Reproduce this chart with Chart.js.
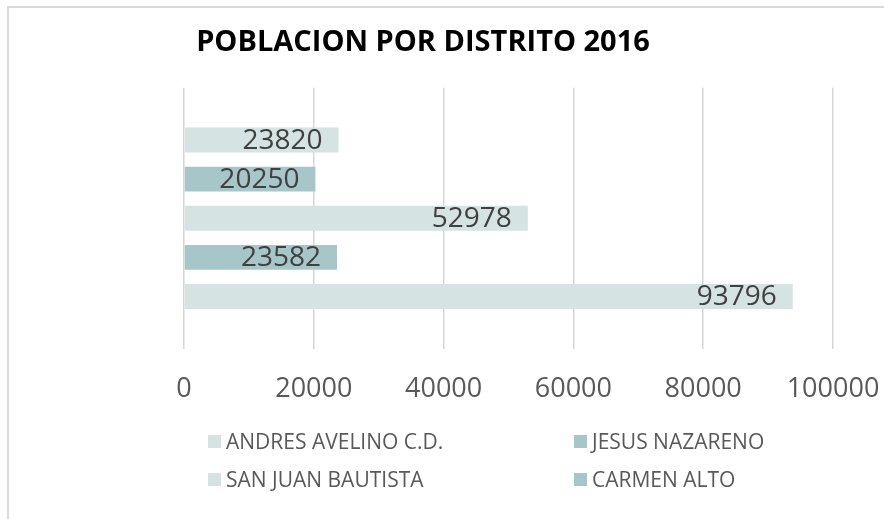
<!DOCTYPE html>
<html>
<head>
<meta charset="utf-8">
<script src="https://cdn.jsdelivr.net/npm/chart.js@4.4.1/dist/chart.umd.min.js"></script>
<style>
  html, body { margin: 0; padding: 0; background: #fff; overflow: hidden; }
  #wrap { position: relative; width: 884px; height: 519px; }
  #frame {
    position: absolute; left: 7px; top: 6px; width: 900px; height: 600px;
    border: 2px solid #d9d9d9; box-sizing: border-box;
  }
  #chart { position: absolute; left: 0; top: 0; }
  #legend {
    position: absolute; left: 208px; top: 422px;
    display: grid; grid-template-columns: 366px auto; grid-auto-rows: 38px;
    font-family: "Open Sans", sans-serif; font-size: 21px; color: #595959;
  }
  #legend .item { display: flex; align-items: center; white-space: nowrap; }
  #legend .swatch { width: 13px; height: 13px; margin-right: 5px; flex: none; }
</style>
</head>
<body>
<div id="wrap">
  <div id="frame"></div>
  <canvas id="chart" width="884" height="519"></canvas>
  <div id="legend"></div>
</div>
<script>
// Población por distrito, 2016
const years = ["2016"];
const districts = ["ANDRES AVELINO C.D.", "JESUS NAZARENO", "SAN JUAN BAUTISTA", "CARMEN ALTO", "AYACUCHO"];
const population = [23820, 20250, 52978, 23582, 93796];
const xTicks = [0, 20000, 40000, 60000, 80000, 100000];

const LIGHT = "#d5e3e3";
const DARK = "#a7c6c8";
const fillFor = (i) => (i % 2 === 0 ? LIGHT : DARK);

// value text drawn inside the end of each bar
const barValues = {
  id: "barValues",
  afterDatasetsDraw(chart) {
    const ctx = chart.ctx;
    ctx.save();
    ctx.font = "28px 'Open Sans', sans-serif";
    ctx.fillStyle = "#404040";
    ctx.textAlign = "right";
    ctx.textBaseline = "middle";
    chart.data.datasets.forEach((ds, i) => {
      chart.getDatasetMeta(i).data.forEach((bar, j) => {
        ctx.fillText(String(ds.data[j]), bar.x - 16, bar.y + 1);
      });
    });
    ctx.restore();
  },
};

new Chart(document.getElementById("chart"), {
  type: "bar",
  data: {
    labels: years,
    datasets: districts.map((name, i) => ({
      label: name,
      data: [population[i]],
      backgroundColor: fillFor(i),
      borderWidth: 0,
      categoryPercentage: 0.75,
      barPercentage: 0.636,
    })),
  },
  options: {
    indexAxis: "y",
    responsive: false,
    animation: false,
    layout: { padding: { left: 13, right: 51, top: 0, bottom: 88 } },
    plugins: {
      legend: { display: false },
      tooltip: { enabled: false },
      title: {
        display: true,
        text: "POBLACION POR DISTRITO 2016",
        color: "#000",
        font: { family: "'Open Sans', sans-serif", size: 29, weight: "bold", lineHeight: 1.2 },
        padding: { top: 25, bottom: 28 },
      },
    },
    scales: {
      x: {
        min: xTicks[0],
        max: xTicks[xTicks.length - 1],
        ticks: {
          stepSize: xTicks[1] - xTicks[0],
          padding: 25,
          color: "#595959",
          font: { family: "'Open Sans', sans-serif", size: 27 },
          callback: (v) => String(v),
        },
        grid: { color: "#d6d6d6", lineWidth: 1.5, drawTicks: false },
        border: { display: false },
        afterFit(scale) {
          scale.paddingLeft = 0;
          scale.paddingRight = 0;
        },
      },
      y: {
        ticks: { display: false },
        grid: { display: false },
        border: { display: false },
        afterFit(scale) {
          scale.width = 171;
        },
      },
    },
  },
  plugins: [barValues],
});

// two-column legend; only the first four districts fit in the box
const legend = document.getElementById("legend");
legend.innerHTML = districts.slice(0, 4).map((name, i) => `
  <div class="item"><span class="swatch" style="background:${fillFor(i)}"></span>${name}</div>
`).join("");
</script>
</body>
</html>
